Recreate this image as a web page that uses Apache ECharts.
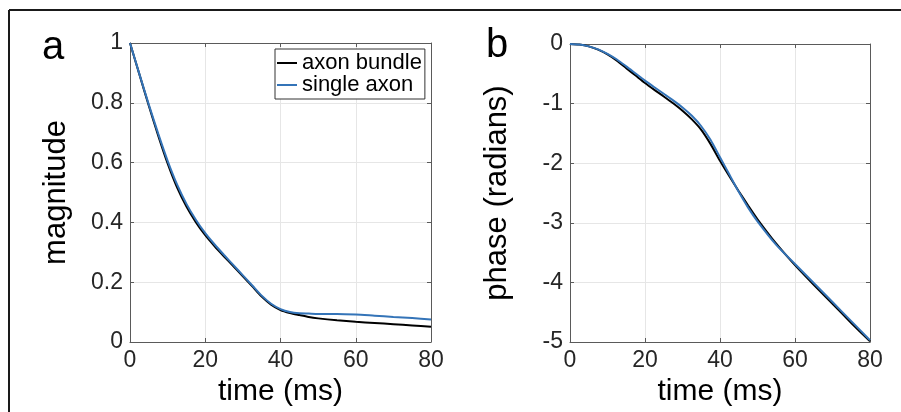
<!DOCTYPE html>
<html>
<head>
<meta charset="utf-8">
<script src="https://cdn.jsdelivr.net/npm/echarts@6/dist/echarts.min.js"></script>
<style>
  html, body { margin: 0; padding: 0; background: #fff; }
  #chart { width: 901px; height: 412px; }
</style>
</head>
<body>
<div id="chart"></div>
<script>
// time samples (ms)
const time = [0, 2.5, 5, 7.5, 10, 12.5, 15, 17.5, 20, 22.5, 25, 27.5, 30, 32.5, 35,
  37.5, 40, 42.5, 45, 47.5, 50, 55, 60, 65, 70, 75, 80];

// panel a: signal magnitude
const magBundle = [1.0, 0.895, 0.79, 0.69, 0.597, 0.517, 0.453, 0.401, 0.357, 0.32, 0.286,
  0.253, 0.22, 0.186, 0.152, 0.125, 0.107, 0.097, 0.09, 0.0835, 0.079, 0.0725, 0.0675,
  0.0635, 0.0595, 0.0553, 0.051];
const magSingle = [1.0, 0.896, 0.794, 0.697, 0.606, 0.527, 0.462, 0.409, 0.364, 0.326, 0.291,
  0.257, 0.223, 0.189, 0.155, 0.128, 0.11, 0.1, 0.096, 0.095, 0.094, 0.094, 0.092,
  0.088, 0.084, 0.08, 0.075];

// panel b: phase (radians)
const phaseBundle = [0, -0.01, -0.04, -0.095, -0.175, -0.28, -0.405, -0.53, -0.655, -0.77,
  -0.88, -0.995, -1.12, -1.265, -1.44, -1.68, -1.96, -2.22, -2.47, -2.71, -2.94, -3.35,
  -3.71, -4.04, -4.36, -4.68, -4.99];
const phaseSingle = [0, -0.01, -0.04, -0.09, -0.165, -0.26, -0.375, -0.495, -0.615, -0.725,
  -0.835, -0.945, -1.065, -1.205, -1.38, -1.61, -1.9, -2.19, -2.48, -2.745, -2.975, -3.37,
  -3.69, -4.01, -4.33, -4.65, -4.97];

const seriesNames = ["axon bundle", "single axon"];
const xTicks = { min: 0, max: 80, interval: 20 };

const FONT = "Liberation Sans, Arial, Helvetica, sans-serif";
const axisColor = "#5a5a5a";
const labelColor = "#262626";

function pairs(ys) {
  return time.map((t, i) => [t, ys[i]]);
}

function mainX(gridIndex) {
  return {
    type: "value", gridIndex, ...xTicks,
    name: "time (ms)", nameLocation: "middle", nameGap: 35,
    nameTextStyle: { fontSize: 30, color: "#000", fontFamily: FONT },
    axisLine: { show: true, onZero: false, lineStyle: { color: axisColor } },
    axisTick: { inside: true, length: 4, lineStyle: { color: axisColor } },
    axisLabel: { fontSize: 23, color: labelColor, fontFamily: FONT, margin: 7 },
    splitLine: { show: true, lineStyle: { color: "#e6e6e6" } },
  };
}

function boxX(gridIndex) {
  return {
    type: "value", gridIndex, position: "top", ...xTicks,
    axisLine: { show: true, onZero: false, lineStyle: { color: axisColor } },
    axisTick: { inside: true, length: 4, lineStyle: { color: axisColor } },
    axisLabel: { show: false },
    splitLine: { show: false },
  };
}

function mainY(gridIndex, name, min, max, interval, gap) {
  return {
    type: "value", gridIndex, min, max, interval,
    name, nameLocation: "middle", nameGap: gap,
    nameTextStyle: { fontSize: 31, color: "#000", fontFamily: FONT },
    axisLine: { show: true, onZero: false, lineStyle: { color: axisColor } },
    axisTick: { show: true, inside: true, length: 4, lineStyle: { color: axisColor } },
    axisLabel: { fontSize: 23, color: labelColor, fontFamily: FONT, margin: 7 },
    splitLine: { show: true, lineStyle: { color: "#e6e6e6" } },
  };
}

function boxY(gridIndex, min, max, interval) {
  return {
    type: "value", gridIndex, position: "right", min, max, interval,
    axisLine: { show: true, onZero: false, lineStyle: { color: axisColor } },
    axisTick: { show: true, inside: true, length: 4, lineStyle: { color: axisColor } },
    axisLabel: { show: false },
    splitLine: { show: false },
  };
}

function line(name, color, xi, yi, ys) {
  return {
    name, type: "line", xAxisIndex: xi, yAxisIndex: yi,
    data: pairs(ys), smooth: 0.25, symbol: "none",
    lineStyle: { color, width: 2 }, itemStyle: { color },
    animation: false, z: 3,
  };
}

const chart = echarts.init(document.getElementById("chart"), null, { renderer: "canvas" });

chart.setOption({
  backgroundColor: "#fff",
  animation: false,
  title: [
    { text: "a", left: 37, top: 23, textStyle: { fontSize: 40, fontWeight: "normal", color: "#000", fontFamily: FONT } },
    { text: "b", left: 481, top: 21, textStyle: { fontSize: 40, fontWeight: "normal", color: "#000", fontFamily: FONT } },
  ],
  legend: {
    data: seriesNames,
    orient: "vertical",
    left: 275, top: 49,
    icon: "rect", itemWidth: 20, itemHeight: 2, itemGap: 0,
    padding: [3, 3, 3, 2],
    borderColor: "#333", borderWidth: 1, backgroundColor: "#fff",
    textStyle: { fontSize: 22, lineHeight: 21, color: "#000", fontFamily: FONT },
  },
  grid: [
    { left: 130, top: 43, width: 301, height: 299 },
    { left: 570, top: 44, width: 300, height: 300 },
  ],
  xAxis: [mainX(0), boxX(0), mainX(1), boxX(1)],
  yAxis: [
    mainY(0, "magnitude", 0, 1, 0.2, 58),
    boxY(0, 0, 1, 0.2),
    mainY(1, "phase (radians)", -5, 0, 1, 57),
    boxY(1, -5, 0, 1),
  ],
  series: [
    line(seriesNames[0], "#000000", 0, 0, magBundle),
    line(seriesNames[1], "#3474b8", 0, 0, magSingle),
    line(seriesNames[0], "#000000", 2, 2, phaseBundle),
    line(seriesNames[1], "#3474b8", 2, 2, phaseSingle),
  ],
  graphic: [
    { type: "line", shape: { x1: 9, y1: 10, x2: 901, y2: 10 }, style: { stroke: "#1a1a1a", lineWidth: 2 } },
    { type: "line", shape: { x1: 9, y1: 10, x2: 9, y2: 412 }, style: { stroke: "#1a1a1a", lineWidth: 2 } },
  ],
});
</script>
</body>
</html>
